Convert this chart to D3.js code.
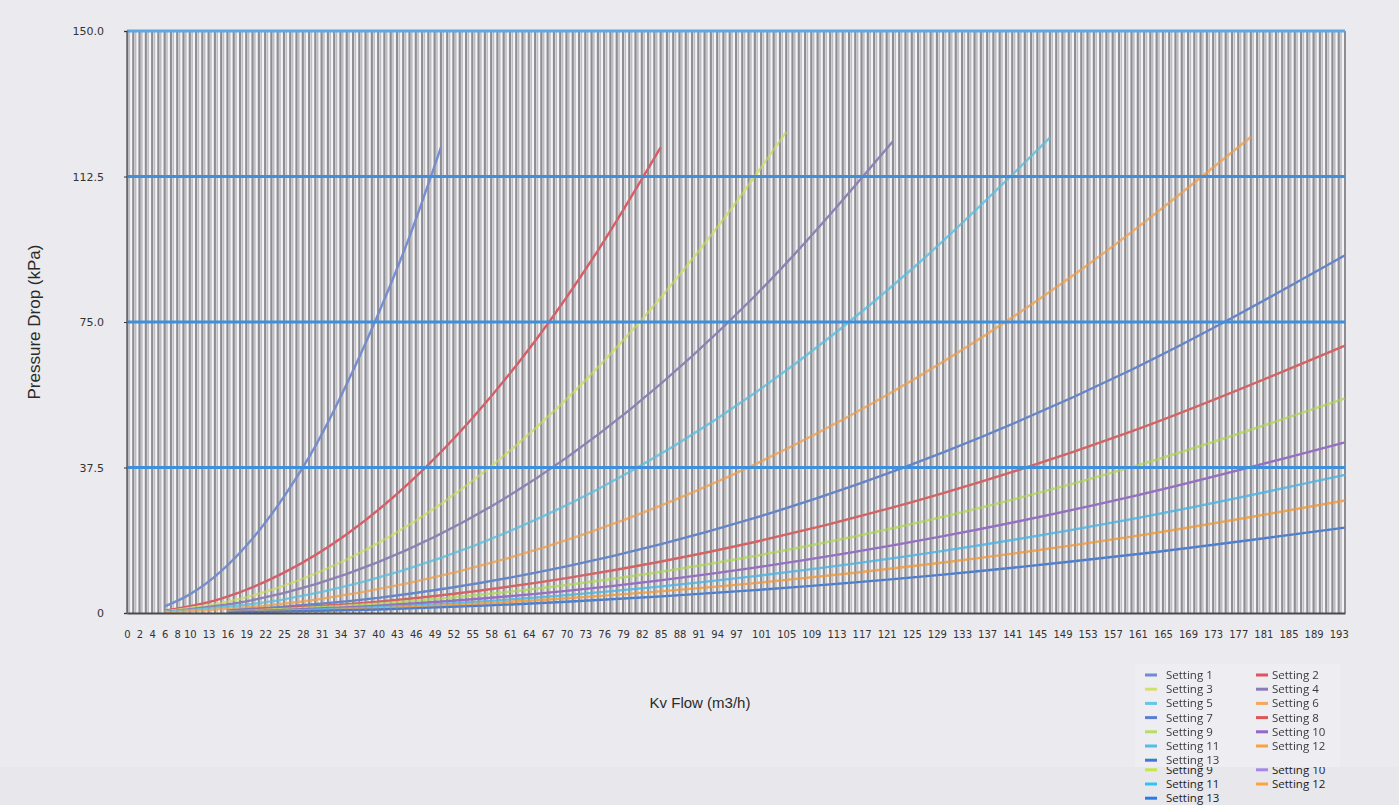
<!DOCTYPE html>
<html>
<head>
<meta charset="utf-8">
<script src="https://cdn.jsdelivr.net/npm/d3@7"></script>
<style>
html, body { margin: 0; padding: 0; background: #e8e7ec; }
svg { display: block; }
</style>
</head>
<body>
<script>
var width = 1399
var height = 805
var margin = { top: 31, right: 54, bottom: 192, left: 127 }

// data: [flow m3/h, pressure drop kPa]
var settingNames = ['Setting 1', 'Setting 2', 'Setting 3', 'Setting 4', 'Setting 5', 'Setting 6', 'Setting 7',
    'Setting 8', 'Setting 9', 'Setting 10', 'Setting 11', 'Setting 12', 'Setting 13']

var setting1 = [[6, 1.7], [10, 4.8], [15, 10.8], [20, 19.2], [25, 30], [30, 43], [35, 59], [40, 77], [45, 97], [50, 120]]
var setting2 = [[6, 0.6], [15, 3.7], [25, 10.4], [35, 20.3], [45, 33.6], [55, 50.2], [65, 70.1], [75, 93.4], [85, 120]]
var setting3 = [[6, 0.4], [20, 4.5], [35, 13.8], [50, 28.1], [65, 47.5], [80, 72], [95, 101.5], [105, 124]]
var setting4 = [[6, 0.3], [20, 3.3], [40, 13.1], [60, 29.4], [80, 52.3], [100, 81.7], [122, 121.6]]
var setting5 = [[6, 0.2], [25, 3.5], [50, 14.2], [75, 31.9], [100, 56.7], [125, 88.6], [147, 122.5]]
var setting6 = [[6, 0.1], [30, 3.4], [60, 13.8], [90, 31], [120, 55.2], [150, 86.2], [179, 122.7]]
var setting7 = [[16, 0.6], [40, 3.9], [70, 12], [100, 24.5], [130, 41.4], [160, 62.7], [194, 92.2]]
var setting8 = [[16, 0.5], [40, 2.9], [70, 9], [100, 18.3], [130, 30.9], [160, 46.8], [194, 68.9]]
var setting9 = [[16, 0.4], [40, 2.4], [70, 7.2], [100, 14.7], [130, 24.8], [160, 37.6], [194, 55.3]]
var setting10 = [[16, 0.3], [40, 1.9], [70, 5.7], [100, 11.7], [130, 19.8], [160, 30], [194, 44]]
var setting11 = [[16, 0.2], [40, 1.5], [70, 4.6], [100, 9.5], [130, 16], [160, 24.2], [194, 35.6]]
var setting12 = [[16, 0.2], [40, 1.2], [70, 3.8], [100, 7.7], [130, 13], [160, 19.7], [194, 29]]
var setting13 = [[16, 0.1], [40, 0.9], [70, 2.9], [100, 5.9], [130, 9.9], [160, 15], [194, 22]]

var settingData = [setting1, setting2, setting3, setting4, setting5, setting6, setting7,
    setting8, setting9, setting10, setting11, setting12, setting13]

var xTickValues = [0, 2, 4, 6, 8, 10, 13, 16, 19, 22, 25, 28, 31, 34, 37, 40, 43, 46, 49, 52, 55, 58, 61, 64, 67,
    70, 73, 76, 79, 82, 85, 88, 91, 94, 97, 101, 105, 109, 113, 117, 121, 125, 129, 133, 137, 141, 145, 149,
    153, 157, 161, 165, 169, 173, 177, 181, 185, 189, 193]
var yTickValues = [0, 37.5, 75, 112.5, 150]
var gridFlows = d3.range(0, 195)

var lineColors = ['#6f8ad6', '#e2515c', '#d3df6e', '#8a7cb8', '#66c6e6', '#f3a95c', '#5a7fd2',
    '#df5656', '#b9dc66', '#9366c8', '#52bdec', '#f7a244', '#3f78d6']
var crispColors = ['#2a7de8', '#f0643c', '#c9e44a', '#a587e8', '#2fc4f4', '#ffa43c', '#2a7de8',
    '#f0643c', '#c9e44a', '#a587e8', '#2fc4f4', '#ffa43c', '#2a7de8']

var x = d3.scaleLinear().domain([0, 194]).range([margin.left, width - margin.right])
var y = d3.scaleLinear().domain([0, 150]).range([height - margin.bottom, margin.top])

var svg = d3.select('body').append('svg').attr('width', width).attr('height', height)

var defs = svg.append('defs')
defs.append('filter').attr('id', 'soft').append('feGaussianBlur').attr('stdDeviation', 0.7)
defs.append('filter').attr('id', 'haze').append('feGaussianBlur').attr('stdDeviation', 0.35)
defs.append('clipPath').attr('id', 'below')
    .append('rect').attr('x', 0).attr('y', 767).attr('width', width).attr('height', height - 767)

function drawLegend(g, names, colors, fill, offset) {
    var item = g.selectAll('g')
        .data(names)
        .enter()
        .append('g')
        .attr('transform', function (d, i) {
            var k = i + offset
            return 'translate(' + (k % 2 === 0 ? 1145 : 1256) + ',' + (Math.floor(k / 2) * 14.2) + ')'
        })
    item.append('line')
        .attr('x1', 0).attr('x2', 12)
        .attr('stroke', function (d, i) { return colors[i + offset] })
        .attr('stroke-width', 3)
    item.append('text')
        .attr('dx', function (d, i) { return (i + offset) % 2 === 0 ? 21 : 16 })
        .attr('dy', '0.35em')
        .attr('font-family', 'Open Sans, DejaVu Sans, sans-serif')
        .attr('font-size', 11.5)
        .attr('fill', fill)
        .text(function (d) { return d })
}

svg.append('rect')
    .attr('x', 0).attr('y', 0)
    .attr('width', width).attr('height', 767)
    .attr('fill', '#ebeaee')

// crisp legend below the picture, only its last rows show
drawLegend(svg.append('g').attr('clip-path', 'url(#below)').append('g').attr('transform', 'translate(0,713)'),
    settingNames.slice(8), crispColors, '#1c1c1c', 8)

// plot area
svg.append('rect')
    .attr('x', x(0)).attr('y', y(150))
    .attr('width', x(194) - x(0)).attr('height', y(0) - y(150))
    .attr('fill', '#f4f4f7')

function gridLines(g, cls, data, shift, color, w, op) {
    g.selectAll('line.' + cls)
        .data(data)
        .enter()
        .append('line')
        .attr('class', cls)
        .attr('x1', function (d) { return x(d) + shift })
        .attr('x2', function (d) { return x(d) + shift })
        .attr('y1', y(150)).attr('y2', y(0))
        .attr('stroke', color)
        .attr('stroke-width', w)
        .attr('stroke-opacity', op)
}

var grid = svg.append('g')
gridLines(grid, 'dark', gridFlows, 0, '#8d8d92', 2, 1)
gridLines(grid, 'mid', gridFlows.slice(0, -1), 2.3, '#bdbdc3', 1.6, 1)

var line = d3.line()
    .x(function (d) { return x(d[0]) })
    .y(function (d) { return y(d[1]) })
    .curve(d3.curveMonotoneX)

svg.append('g')
    .attr('filter', 'url(#haze)')
    .selectAll('path')
    .data(settingData)
    .enter()
    .append('path')
    .attr('d', line)
    .attr('fill', 'none')
    .attr('stroke', function (d, i) { return lineColors[i] })
    .attr('stroke-width', 2.4)
    .attr('stroke-opacity', 0.95)

// vertical grid drawn again over the curves, so they look broken as in the picture
gridLines(svg.append('g'), 'over', gridFlows, 0, '#8d8d92', 2, 0.45)

// horizontal grid
svg.append('g')
    .selectAll('line')
    .data(yTickValues.slice(1))
    .enter()
    .append('line')
    .attr('x1', x(0)).attr('x2', x(194))
    .attr('y1', function (d) { return y(d) })
    .attr('y2', function (d) { return y(d) })
    .attr('stroke', function (d) { return d === 150 ? '#5ea6e4' : '#3f90dc' })
    .attr('stroke-width', 3)

// axes
var xAxis = svg.append('g')
    .attr('transform', 'translate(0,' + y(0) + ')')
    .call(d3.axisBottom(x).tickValues(xTickValues).tickSize(0).tickPadding(18).tickFormat(d3.format('d')))
xAxis.select('.domain').attr('stroke', '#4a4a4e').attr('stroke-width', 2)
xAxis.selectAll('text')
    .attr('font-family', 'DejaVu Sans, sans-serif')
    .attr('font-size', 10)
    .attr('fill', '#333')

var yAxis = svg.append('g')
    .attr('transform', 'translate(' + x(0) + ',0)')
    .call(d3.axisLeft(y).tickValues(yTickValues).tickSize(3).tickPadding(20)
        .tickFormat(function (d) { return d === 0 ? '0' : d3.format('.1f')(d) }))
yAxis.select('.domain').attr('stroke', '#6a6a6e').attr('stroke-width', 1.5)
yAxis.selectAll('.tick line').attr('stroke', '#333')
yAxis.selectAll('text')
    .attr('font-family', 'DejaVu Sans, sans-serif')
    .attr('font-size', 11)
    .attr('fill', '#333')

svg.append('text')
    .attr('transform', 'translate(40,' + ((y(0) + y(150)) / 2) + ') rotate(-90)')
    .attr('text-anchor', 'middle')
    .attr('font-family', 'Liberation Sans, Arial, sans-serif')
    .attr('font-size', 17)
    .attr('fill', '#2a2a2a')
    .text('Pressure Drop (kPa)')

svg.append('text')
    .attr('x', 700).attr('y', 708)
    .attr('text-anchor', 'middle')
    .attr('font-family', 'Liberation Sans, Arial, sans-serif')
    .attr('font-size', 15)
    .attr('fill', '#2a2a2a')
    .text('Kv Flow (m3/h)')

// faded legend inside the picture
var legendBox = svg.append('g').attr('filter', 'url(#soft)')
legendBox.append('rect')
    .attr('x', 1135).attr('y', 664)
    .attr('width', 205).attr('height', 103)
    .attr('fill', '#eeedf1')
drawLegend(legendBox.append('g').attr('transform', 'translate(0,675)'), settingNames, lineColors, '#3a3a3e', 0)
</script>
</body>
</html>
